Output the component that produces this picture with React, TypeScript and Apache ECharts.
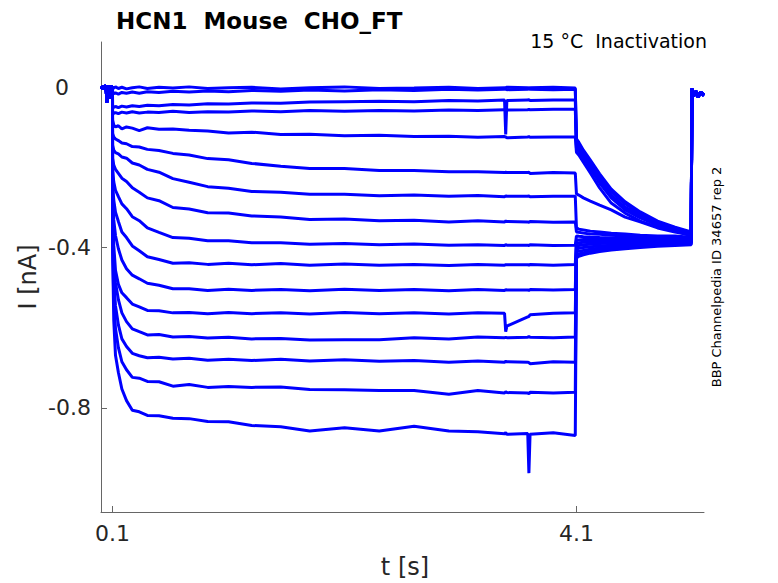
import React, { useEffect, useRef } from "react";
import * as echarts from "echarts";

// time grids [s]
const T_BASE = [0, 0.015, 0.03, 0.045, 0.05, 0.055, 0.065, 0.08, 0.085, 0.09, 0.099];
const I_BASE = [0.002, -0.003, 0.004, -0.002, -0.038, -0.006, 0.003, -0.004, -0.028, 0.001, 0.002];
const T_STEP = [0.1, 0.11, 0.125, 0.15, 0.18, 0.22, 0.27, 0.33, 0.4, 0.5, 0.62, 0.76, 0.92, 1.1, 1.3, 1.55, 1.8, 2.1, 2.4, 2.7, 3.0, 3.25, 3.48, 3.49, 3.5, 3.68, 3.69, 3.7, 3.9, 4.09];
const T_TAIL = [4.1, 4.12, 4.16, 4.22, 4.3, 4.4, 4.52, 4.65, 4.8, 4.95, 5.09];
const T_END = [5.095, 5.11, 5.13, 5.15, 5.17, 5.2];
const I_END = [-0.004, -0.022, -0.01, -0.024, -0.012, -0.02];

// current [nA] during the conditioning step (one array per sweep)
const STEP_01 = [-0.004, -0.002, 0.001, -0.003, 0.0, -0.004, -0.001, 0.001, -0.003, 0.0, -0.002, 0.001, -0.003, -0.001, 0.0, -0.004, -0.001, 0.001, -0.003, -0.002, 0.0, -0.003, -0.001, -0.001, 0.0, -0.001, -0.002, -0.001, 0.0, -0.002];
const STEP_02 = [-0.01, -0.016, -0.014, -0.017, -0.013, -0.015, -0.012, -0.015, -0.011, -0.013, -0.01, -0.012, -0.009, -0.011, -0.008, -0.01, -0.007, -0.009, -0.006, -0.008, -0.005, -0.007, -0.005, -0.005, -0.006, -0.005, -0.004, -0.005, -0.006, -0.005];
const STEP_03 = [-0.045, -0.05, -0.048, -0.051, -0.047, -0.049, -0.046, -0.048, -0.045, -0.046, -0.043, -0.044, -0.041, -0.042, -0.039, -0.04, -0.037, -0.036, -0.035, -0.036, -0.033, -0.034, -0.032, -0.118, -0.033, -0.032, -0.031, -0.033, -0.032, -0.032];
const STEP_04 = [-0.06, -0.065, -0.063, -0.066, -0.062, -0.064, -0.061, -0.064, -0.062, -0.063, -0.06, -0.063, -0.061, -0.062, -0.059, -0.061, -0.058, -0.06, -0.058, -0.059, -0.057, -0.058, -0.056, -0.056, -0.057, -0.056, -0.055, -0.056, -0.055, -0.055];
const STEP_05 = [-0.082, -0.094, -0.099, -0.096, -0.104, -0.099, -0.102, -0.108, -0.101, -0.105, -0.104, -0.107, -0.109, -0.114, -0.112, -0.118, -0.117, -0.121, -0.12, -0.123, -0.122, -0.125, -0.123, -0.124, -0.126, -0.124, -0.123, -0.125, -0.124, -0.124];
const STEP_06 = [-0.115, -0.124, -0.129, -0.133, -0.139, -0.141, -0.148, -0.149, -0.155, -0.158, -0.165, -0.169, -0.178, -0.181, -0.19, -0.197, -0.203, -0.203, -0.208, -0.208, -0.211, -0.211, -0.213, -0.212, -0.213, -0.213, -0.212, -0.215, -0.213, -0.214];
const STEP_07 = [-0.144, -0.157, -0.163, -0.166, -0.174, -0.177, -0.189, -0.194, -0.205, -0.212, -0.228, -0.237, -0.248, -0.252, -0.26, -0.262, -0.267, -0.267, -0.271, -0.269, -0.272, -0.27, -0.273, -0.271, -0.272, -0.272, -0.271, -0.273, -0.272, -0.272];
const STEP_08 = [-0.177, -0.194, -0.205, -0.215, -0.227, -0.235, -0.251, -0.262, -0.276, -0.283, -0.3, -0.304, -0.313, -0.314, -0.321, -0.324, -0.33, -0.329, -0.333, -0.332, -0.336, -0.333, -0.336, -0.334, -0.335, -0.336, -0.337, -0.335, -0.337, -0.336];
const STEP_09 = [-0.206, -0.236, -0.257, -0.273, -0.291, -0.303, -0.323, -0.333, -0.351, -0.362, -0.375, -0.377, -0.383, -0.383, -0.388, -0.388, -0.392, -0.39, -0.393, -0.391, -0.394, -0.393, -0.395, -0.393, -0.394, -0.394, -0.395, -0.393, -0.395, -0.394];
const STEP_10 = [-0.244, -0.281, -0.312, -0.335, -0.361, -0.375, -0.396, -0.408, -0.423, -0.43, -0.439, -0.438, -0.442, -0.439, -0.443, -0.44, -0.444, -0.441, -0.444, -0.442, -0.445, -0.442, -0.444, -0.443, -0.443, -0.443, -0.444, -0.442, -0.444, -0.442];
const STEP_11 = [-0.281, -0.331, -0.37, -0.403, -0.431, -0.453, -0.469, -0.478, -0.489, -0.494, -0.503, -0.503, -0.507, -0.504, -0.507, -0.505, -0.508, -0.504, -0.507, -0.505, -0.508, -0.505, -0.507, -0.505, -0.506, -0.506, -0.507, -0.505, -0.506, -0.505];
const STEP_12 = [-0.306, -0.394, -0.457, -0.492, -0.513, -0.525, -0.541, -0.548, -0.557, -0.558, -0.563, -0.562, -0.565, -0.562, -0.565, -0.563, -0.566, -0.562, -0.565, -0.563, -0.566, -0.563, -0.564, -0.61, -0.596, -0.573, -0.572, -0.568, -0.564, -0.563];
const STEP_13 = [-0.331, -0.436, -0.487, -0.53, -0.563, -0.585, -0.603, -0.61, -0.618, -0.617, -0.623, -0.622, -0.626, -0.624, -0.628, -0.627, -0.631, -0.63, -0.63, -0.625, -0.628, -0.623, -0.625, -0.624, -0.625, -0.624, -0.622, -0.624, -0.625, -0.623];
const STEP_14 = [-0.356, -0.481, -0.545, -0.593, -0.628, -0.647, -0.664, -0.67, -0.675, -0.674, -0.678, -0.676, -0.681, -0.679, -0.682, -0.679, -0.683, -0.68, -0.684, -0.682, -0.686, -0.683, -0.686, -0.684, -0.685, -0.686, -0.687, -0.69, -0.685, -0.686];
const STEP_15 = [-0.381, -0.531, -0.602, -0.65, -0.685, -0.705, -0.724, -0.726, -0.734, -0.735, -0.746, -0.742, -0.749, -0.747, -0.749, -0.748, -0.754, -0.755, -0.757, -0.757, -0.766, -0.757, -0.763, -0.76, -0.762, -0.763, -0.765, -0.761, -0.763, -0.761];
const STEP_16 = [-0.406, -0.581, -0.669, -0.712, -0.753, -0.782, -0.806, -0.81, -0.819, -0.82, -0.826, -0.827, -0.834, -0.835, -0.844, -0.847, -0.858, -0.85, -0.858, -0.846, -0.858, -0.86, -0.865, -0.862, -0.866, -0.864, -0.963, -0.866, -0.862, -0.869];

// current [nA] during the test step (tail)
const TAIL_01 = [-0.129, -0.137, -0.157, -0.182, -0.216, -0.254, -0.286, -0.311, -0.334, -0.349, -0.361];
const TAIL_02 = [-0.137, -0.144, -0.162, -0.189, -0.224, -0.261, -0.291, -0.316, -0.336, -0.351, -0.364];
const TAIL_03 = [-0.144, -0.152, -0.169, -0.197, -0.231, -0.269, -0.299, -0.321, -0.341, -0.354, -0.366];
const TAIL_04 = [-0.152, -0.159, -0.177, -0.204, -0.239, -0.276, -0.306, -0.326, -0.344, -0.356, -0.369];
const TAIL_05 = [-0.162, -0.169, -0.187, -0.214, -0.251, -0.289, -0.314, -0.334, -0.349, -0.359, -0.371];
const TAIL_06 = [-0.266, -0.269, -0.276, -0.284, -0.294, -0.306, -0.324, -0.336, -0.351, -0.361, -0.369];
const TAIL_07 = [-0.351, -0.354, -0.356, -0.359, -0.361, -0.364, -0.366, -0.369, -0.371, -0.371, -0.374];
const TAIL_08 = [-0.361, -0.362, -0.364, -0.366, -0.367, -0.369, -0.371, -0.372, -0.374, -0.375, -0.376];
const TAIL_09 = [-0.371, -0.372, -0.373, -0.374, -0.375, -0.376, -0.376, -0.377, -0.378, -0.378, -0.379];
const TAIL_10 = [-0.381, -0.381, -0.38, -0.38, -0.38, -0.379, -0.379, -0.379, -0.38, -0.379, -0.38];
const TAIL_11 = [-0.389, -0.388, -0.387, -0.386, -0.385, -0.384, -0.383, -0.383, -0.382, -0.382, -0.381];
const TAIL_12 = [-0.396, -0.395, -0.393, -0.392, -0.39, -0.389, -0.387, -0.386, -0.385, -0.384, -0.383];
const TAIL_13 = [-0.404, -0.402, -0.4, -0.398, -0.396, -0.394, -0.392, -0.39, -0.388, -0.387, -0.386];
const TAIL_14 = [-0.411, -0.409, -0.407, -0.404, -0.401, -0.398, -0.396, -0.393, -0.391, -0.389, -0.388];
const TAIL_15 = [-0.419, -0.416, -0.413, -0.41, -0.406, -0.403, -0.4, -0.397, -0.394, -0.392, -0.39];
const TAIL_16 = [-0.426, -0.422, -0.418, -0.414, -0.41, -0.406, -0.403, -0.4, -0.397, -0.395, -0.393];

const SWEEPS = [
  [STEP_01, TAIL_01], [STEP_02, TAIL_02], [STEP_03, TAIL_03], [STEP_04, TAIL_04],
  [STEP_05, TAIL_05], [STEP_06, TAIL_06], [STEP_07, TAIL_07], [STEP_08, TAIL_08],
  [STEP_09, TAIL_09], [STEP_10, TAIL_10], [STEP_11, TAIL_11], [STEP_12, TAIL_12],
  [STEP_13, TAIL_13], [STEP_14, TAIL_14], [STEP_15, TAIL_15], [STEP_16, TAIL_16],
];

const X_TICKS = [0.1, 4.1];
const Y_TICKS = [-0.8, -0.4, 0];

const FONT = "DejaVu Sans";
const BLUE = "#0000ff";
const AXIS = "#666666";
const TXT = "#262626";

function buildSweep(step: number[], tail: number[]) {
  const pts: number[][] = [];
  T_BASE.forEach((t, k) => pts.push([t, I_BASE[k]]));
  T_STEP.forEach((t, k) => pts.push([t, step[k]]));
  T_TAIL.forEach((t, k) => pts.push([t, tail[k]]));
  T_END.forEach((t, k) => pts.push([t, I_END[k]]));
  return pts;
}

export default function App() {
  const ref = useRef<HTMLDivElement>(null);
  useEffect(() => {
    if (!ref.current) return;
    const chart = echarts.init(ref.current, undefined, { renderer: "svg" });
    const series = SWEEPS.map(([s, t], i) => ({
      type: "line",
      name: "sweep" + (i + 1),
      data: buildSweep(s, t),
      showSymbol: false,
      symbol: "none",
      silent: true,
      lineStyle: { color: BLUE, width: 3 },
      itemStyle: { color: BLUE },
    }));
    chart.setOption({
      animation: false,
      backgroundColor: "#ffffff",
      textStyle: { fontFamily: FONT },
      grid: { left: 101, right: 74, top: 42, bottom: 71, containLabel: false },
      xAxis: {
        type: "value",
        min: 0,
        max: 5.2,
        axisLine: { show: true, onZero: false, lineStyle: { color: AXIS, width: 1 } },
        axisTick: { show: true, inside: true, length: 6, customValues: X_TICKS, lineStyle: { color: AXIS } },
        axisLabel: {
          customValues: X_TICKS,
          formatter: (v: number) => String(v),
          fontSize: 22,
          fontFamily: FONT,
          color: TXT,
          margin: 10,
        },
        splitLine: { show: false },
      },
      yAxis: {
        type: "value",
        min: -1.06,
        max: 0.113,
        axisLine: { show: true, onZero: false, lineStyle: { color: AXIS, width: 1 } },
        axisTick: { show: true, inside: true, length: 6, customValues: Y_TICKS, lineStyle: { color: AXIS } },
        axisLabel: {
          customValues: Y_TICKS,
          formatter: (v: number) => (Math.abs(v) < 1e-9 ? "{z|0}" : String(v)),
          fontSize: 22,
          fontFamily: FONT,
          color: TXT,
          margin: 10,
          rich: { z: { fontSize: 22, fontFamily: FONT, color: TXT, padding: [0, 22, 0, 0] } },
        },
        splitLine: { show: false },
      },
      graphic: [
        {
          type: "text",
          x: 116,
          y: 21,
          silent: true,
          style: { text: "HCN1  Mouse  CHO_FT", fontSize: 23, fontWeight: "bold", fontFamily: FONT, fill: "#000", textAlign: "left", textVerticalAlign: "middle" },
        },
        {
          type: "text",
          x: 707,
          y: 41,
          silent: true,
          style: { text: "15 °C  Inactivation", fontSize: 19, fontFamily: FONT, fill: "#000", textAlign: "right", textVerticalAlign: "middle" },
        },
        {
          type: "text",
          x: 405,
          y: 567,
          silent: true,
          style: { text: "t [s]", fontSize: 24, fontFamily: FONT, fill: TXT, textAlign: "center", textVerticalAlign: "middle" },
        },
        {
          type: "text",
          x: 28,
          y: 277,
          rotation: Math.PI / 2,
          silent: true,
          style: { text: "I [nA]", fontSize: 24, fontFamily: FONT, fill: TXT, textAlign: "center", textVerticalAlign: "middle" },
        },
        {
          type: "text",
          x: 716,
          y: 277,
          rotation: Math.PI / 2,
          silent: true,
          style: { text: "BBP Channelpedia ID 34657 rep 2", fontSize: 13, fontFamily: FONT, fill: "#000", textAlign: "center", textVerticalAlign: "middle" },
        },
      ],
      series,
    });
    return () => chart.dispose();
  }, []);
  return (
    <div
      ref={ref}
      style={{ position: "fixed", left: 0, top: 0, width: 778, height: 583, background: "#fff" }}
    />
  );
}
